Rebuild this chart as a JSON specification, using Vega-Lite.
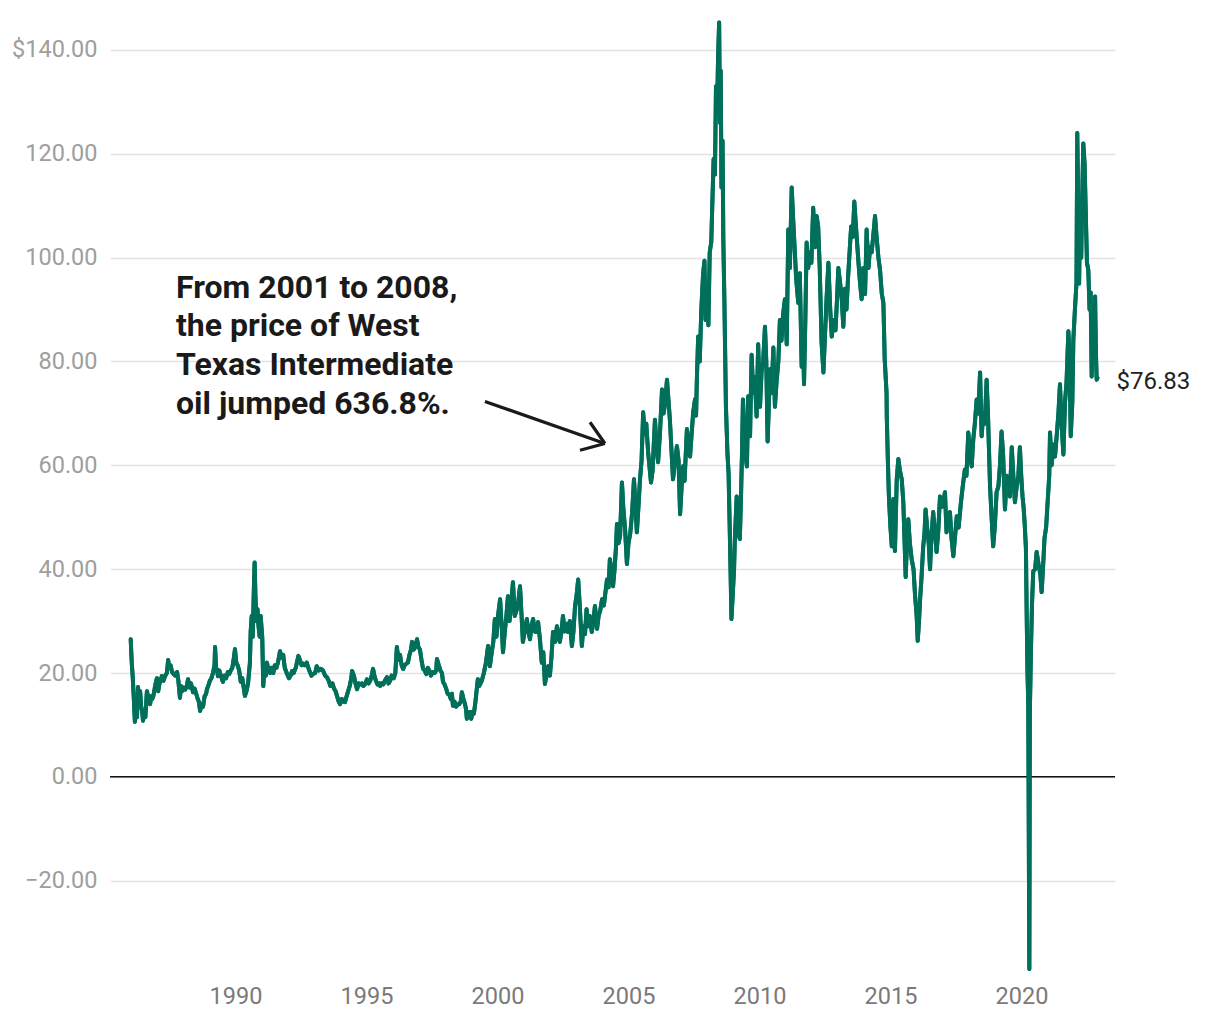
{
  "$schema": "https://vega.github.io/schema/vega-lite/v6.json",
  "width": 1005,
  "height": 946,
  "autosize": {"type": "none"},
  "padding": {"left": 110, "top": 24, "right": 105, "bottom": 50},
  "background": "white",
  "config": {
    "view": {"stroke": null},
    "font": "Roboto",
    "axis": {"domain": false, "ticks": false, "titleFontSize": 0}
  },
  "datasets": {
    "oil": [
      {"year":1986.00,"price":26.5},{"year":1986.04,"price":22},{"year":1986.08,"price":19},{"year":1986.12,"price":15},{"year":1986.16,"price":10.6},{"year":1986.20,"price":13},{"year":1986.24,"price":11.5},{"year":1986.28,"price":17.3},{"year":1986.32,"price":14},{"year":1986.36,"price":16.5},{"year":1986.40,"price":13.5},{"year":1986.44,"price":12.5},{"year":1986.47,"price":10.8},{"year":1986.52,"price":12.5},{"year":1986.56,"price":11.5},{"year":1986.60,"price":15},{"year":1986.62,"price":16.5},{"year":1986.66,"price":15.5},{"year":1986.70,"price":14.8},{"year":1986.74,"price":14},{"year":1986.78,"price":15.5},{"year":1986.82,"price":15},{"year":1986.86,"price":15.5},{"year":1986.90,"price":16.5},{"year":1986.93,"price":17.5},{"year":1987.00,"price":19},{"year":1987.05,"price":16.5},{"year":1987.10,"price":18},{"year":1987.19,"price":19.4},{"year":1987.25,"price":18.5},{"year":1987.32,"price":19.5},{"year":1987.38,"price":20},{"year":1987.43,"price":22.5},{"year":1987.47,"price":21},{"year":1987.52,"price":21.5},{"year":1987.58,"price":20.2},{"year":1987.64,"price":19.8},{"year":1987.70,"price":19.5},{"year":1987.77,"price":20.2},{"year":1987.82,"price":18.5},{"year":1987.88,"price":15.2},{"year":1987.92,"price":17.5},{"year":1987.96,"price":16.5},
      {"year":1988.02,"price":17.2},{"year":1988.08,"price":16.8},{"year":1988.14,"price":17.5},{"year":1988.19,"price":18.8},{"year":1988.24,"price":17.2},{"year":1988.30,"price":18},{"year":1988.38,"price":16.3},{"year":1988.44,"price":17},{"year":1988.50,"price":16},{"year":1988.56,"price":15},{"year":1988.60,"price":14.5},{"year":1988.65,"price":12.7},{"year":1988.70,"price":14},{"year":1988.76,"price":13.5},{"year":1988.82,"price":15.5},{"year":1988.88,"price":16},{"year":1988.91,"price":16.9},{"year":1988.96,"price":17.5},
      {"year":1989.02,"price":18.5},{"year":1989.08,"price":19},{"year":1989.14,"price":20},{"year":1989.20,"price":21.5},{"year":1989.22,"price":25},{"year":1989.26,"price":21},{"year":1989.30,"price":20.5},{"year":1989.33,"price":19.4},{"year":1989.38,"price":20.5},{"year":1989.44,"price":19.5},{"year":1989.52,"price":18.3},{"year":1989.58,"price":19.5},{"year":1989.64,"price":19},{"year":1989.71,"price":20.2},{"year":1989.76,"price":19.8},{"year":1989.82,"price":20.5},{"year":1989.88,"price":21},{"year":1989.94,"price":23},{"year":1989.98,"price":24.6},
      {"year":1990.03,"price":22},{"year":1990.08,"price":21.5},{"year":1990.14,"price":20.5},{"year":1990.20,"price":18.3},{"year":1990.26,"price":19},{"year":1990.32,"price":17},{"year":1990.36,"price":15.6},{"year":1990.42,"price":16.5},{"year":1990.48,"price":18},{"year":1990.55,"price":22},{"year":1990.58,"price":28},{"year":1990.62,"price":31},{"year":1990.66,"price":27},{"year":1990.70,"price":36},{"year":1990.73,"price":41.3},{"year":1990.76,"price":35},{"year":1990.80,"price":30},{"year":1990.84,"price":32.3},{"year":1990.88,"price":29},{"year":1990.92,"price":27},{"year":1990.96,"price":31},
      {"year":1991.02,"price":27},{"year":1991.06,"price":17.5},{"year":1991.10,"price":20.5},{"year":1991.16,"price":19.5},{"year":1991.20,"price":22},{"year":1991.26,"price":20.5},{"year":1991.32,"price":20},{"year":1991.38,"price":21},{"year":1991.44,"price":20},{"year":1991.50,"price":21.5},{"year":1991.56,"price":21},{"year":1991.62,"price":22},{"year":1991.70,"price":24.2},{"year":1991.76,"price":23},{"year":1991.82,"price":23.5},{"year":1991.88,"price":21},{"year":1991.97,"price":19.8},
      {"year":1992.04,"price":19},{"year":1992.10,"price":19.5},{"year":1992.16,"price":20.4},{"year":1992.22,"price":20},{"year":1992.30,"price":21},{"year":1992.40,"price":23.3},{"year":1992.46,"price":22.5},{"year":1992.52,"price":21.5},{"year":1992.58,"price":21.8},{"year":1992.64,"price":21.5},{"year":1992.72,"price":22},{"year":1992.78,"price":21},{"year":1992.84,"price":20.2},{"year":1992.90,"price":19.5},{"year":1992.96,"price":19.8},
      {"year":1993.04,"price":20},{"year":1993.10,"price":21.3},{"year":1993.18,"price":20.5},{"year":1993.26,"price":20.8},{"year":1993.34,"price":20.5},{"year":1993.42,"price":19.5},{"year":1993.49,"price":19.2},{"year":1993.56,"price":18.5},{"year":1993.62,"price":17.5},{"year":1993.70,"price":18},{"year":1993.76,"price":17},{"year":1993.82,"price":16.5},{"year":1993.88,"price":15.5},{"year":1993.94,"price":14.5},{"year":1993.99,"price":14},
      {"year":1994.06,"price":15},{"year":1994.12,"price":14.5},{"year":1994.18,"price":14.4},{"year":1994.24,"price":15.5},{"year":1994.30,"price":16.5},{"year":1994.36,"price":17.5},{"year":1994.42,"price":19},{"year":1994.45,"price":20.4},{"year":1994.52,"price":19.5},{"year":1994.58,"price":18},{"year":1994.64,"price":16.9},{"year":1994.70,"price":18},{"year":1994.76,"price":17.8},{"year":1994.82,"price":18},{"year":1994.88,"price":17.5},{"year":1994.94,"price":17.8},
      {"year":1995.02,"price":18.8},{"year":1995.08,"price":18},{"year":1995.14,"price":18.5},{"year":1995.20,"price":19.5},{"year":1995.25,"price":20.8},{"year":1995.30,"price":19.5},{"year":1995.36,"price":18.5},{"year":1995.42,"price":17.8},{"year":1995.48,"price":18},{"year":1995.52,"price":17.5},{"year":1995.58,"price":18},{"year":1995.64,"price":17.8},{"year":1995.70,"price":18.5},{"year":1995.78,"price":19.2},{"year":1995.84,"price":18},{"year":1995.90,"price":18.5},{"year":1995.96,"price":19.5},
      {"year":1996.04,"price":19},{"year":1996.10,"price":20},{"year":1996.16,"price":25},{"year":1996.22,"price":22.5},{"year":1996.28,"price":23.5},{"year":1996.34,"price":21.5},{"year":1996.40,"price":20.8},{"year":1996.46,"price":21.5},{"year":1996.52,"price":21.8},{"year":1996.58,"price":22},{"year":1996.64,"price":23.5},{"year":1996.70,"price":24.5},{"year":1996.74,"price":26},{"year":1996.80,"price":24.5},{"year":1996.86,"price":25},{"year":1996.93,"price":26.5},{"year":1996.98,"price":25},
      {"year":1997.04,"price":24.5},{"year":1997.10,"price":22.5},{"year":1997.16,"price":20.8},{"year":1997.22,"price":20.5},{"year":1997.28,"price":19.8},{"year":1997.34,"price":21},{"year":1997.40,"price":20.5},{"year":1997.46,"price":19.5},{"year":1997.54,"price":20.2},{"year":1997.60,"price":20},{"year":1997.66,"price":20.5},{"year":1997.69,"price":22.7},{"year":1997.76,"price":21.5},{"year":1997.82,"price":20.5},{"year":1997.88,"price":20},{"year":1997.92,"price":18.3},{"year":1997.98,"price":17.8},
      {"year":1998.04,"price":17},{"year":1998.10,"price":16},{"year":1998.16,"price":15.8},{"year":1998.22,"price":15},{"year":1998.26,"price":16},{"year":1998.30,"price":13.7},{"year":1998.36,"price":14.5},{"year":1998.42,"price":13.5},{"year":1998.48,"price":14},{"year":1998.54,"price":14},{"year":1998.60,"price":14.5},{"year":1998.64,"price":16.3},{"year":1998.70,"price":15},{"year":1998.76,"price":14},{"year":1998.80,"price":13},{"year":1998.83,"price":11.2},{"year":1998.88,"price":11.8},{"year":1998.94,"price":12.5},
      {"year":1999.00,"price":11.2},{"year":1999.04,"price":12.5},{"year":1999.10,"price":12.2},{"year":1999.16,"price":14.5},{"year":1999.20,"price":16.5},{"year":1999.25,"price":18.8},{"year":1999.30,"price":17.5},{"year":1999.40,"price":18.5},{"year":1999.48,"price":20},{"year":1999.56,"price":22},{"year":1999.64,"price":25.2},{"year":1999.71,"price":21.3},{"year":1999.78,"price":24},{"year":1999.84,"price":26},{"year":1999.90,"price":30.4},{"year":1999.96,"price":27},
      {"year":2000.02,"price":31},{"year":2000.10,"price":34.2},{"year":2000.16,"price":29},{"year":2000.21,"price":24},{"year":2000.28,"price":28},{"year":2000.34,"price":31},{"year":2000.40,"price":34.8},{"year":2000.46,"price":30},{"year":2000.52,"price":33},{"year":2000.59,"price":37.5},{"year":2000.66,"price":31},{"year":2000.74,"price":32.3},{"year":2000.80,"price":34},{"year":2000.86,"price":36.7},{"year":2000.92,"price":31},{"year":2000.97,"price":26},
      {"year":2001.04,"price":28},{"year":2001.12,"price":30.4},{"year":2001.18,"price":28},{"year":2001.24,"price":26.5},{"year":2001.30,"price":29},{"year":2001.36,"price":30.4},{"year":2001.42,"price":28},{"year":2001.50,"price":27.9},{"year":2001.55,"price":29.8},{"year":2001.62,"price":26.5},{"year":2001.69,"price":22},{"year":2001.75,"price":24},{"year":2001.81,"price":17.9},{"year":2001.87,"price":19.5},{"year":2001.93,"price":21.3},
      {"year":2002.00,"price":19.5},{"year":2002.06,"price":23},{"year":2002.12,"price":27.9},{"year":2002.20,"price":26},{"year":2002.27,"price":29},{"year":2002.33,"price":27},{"year":2002.38,"price":26},{"year":2002.44,"price":28},{"year":2002.50,"price":31},{"year":2002.56,"price":28},{"year":2002.62,"price":29.5},{"year":2002.69,"price":27.9},{"year":2002.76,"price":30},{"year":2002.84,"price":25.2},{"year":2002.90,"price":28},{"year":2002.96,"price":32.9},
      {"year":2003.02,"price":35},{"year":2003.08,"price":38},{"year":2003.14,"price":33},{"year":2003.22,"price":25.2},{"year":2003.28,"price":29},{"year":2003.34,"price":27.5},{"year":2003.40,"price":32.3},{"year":2003.46,"price":29},{"year":2003.52,"price":31},{"year":2003.60,"price":27.9},{"year":2003.66,"price":30},{"year":2003.72,"price":32.9},{"year":2003.80,"price":28.5},{"year":2003.86,"price":31},{"year":2003.92,"price":32},{"year":2003.99,"price":34.2},
      {"year":2004.06,"price":33},{"year":2004.12,"price":35.5},{"year":2004.18,"price":38},{"year":2004.24,"price":36.5},{"year":2004.29,"price":41.9},{"year":2004.35,"price":40},{"year":2004.41,"price":36.7},{"year":2004.47,"price":40},{"year":2004.52,"price":44},{"year":2004.56,"price":48.7},{"year":2004.62,"price":45},{"year":2004.68,"price":46.4},{"year":2004.75,"price":56.7},{"year":2004.80,"price":52},{"year":2004.87,"price":47.7},{"year":2004.94,"price":41},
      {"year":2005.00,"price":45},{"year":2005.07,"price":47},{"year":2005.14,"price":51},{"year":2005.21,"price":57.3},{"year":2005.26,"price":53},{"year":2005.32,"price":47.1},{"year":2005.38,"price":52},{"year":2005.44,"price":57.3},{"year":2005.50,"price":61},{"year":2005.56,"price":70.2},{"year":2005.62,"price":66},{"year":2005.68,"price":68},{"year":2005.75,"price":62.5},{"year":2005.86,"price":56.7},{"year":2005.92,"price":59},
      {"year":2006.01,"price":68.8},{"year":2006.07,"price":64},{"year":2006.13,"price":60.6},{"year":2006.20,"price":66},{"year":2006.28,"price":74.6},{"year":2006.34,"price":70},{"year":2006.40,"price":72},{"year":2006.47,"price":76.5},{"year":2006.52,"price":73},{"year":2006.58,"price":68.8},{"year":2006.64,"price":63},{"year":2006.70,"price":57.3},{"year":2006.76,"price":60},{"year":2006.85,"price":63.7},{"year":2006.91,"price":61},{"year":2006.97,"price":50.6},
      {"year":2007.03,"price":56},{"year":2007.08,"price":59.8},{"year":2007.14,"price":57},{"year":2007.23,"price":67},{"year":2007.29,"price":64},{"year":2007.35,"price":61.7},{"year":2007.41,"price":66},{"year":2007.47,"price":70.2},{"year":2007.54,"price":72.7},{"year":2007.58,"price":69.6},{"year":2007.61,"price":76.5},{"year":2007.66,"price":84.8},{"year":2007.72,"price":80},{"year":2007.78,"price":90},{"year":2007.85,"price":97},{"year":2007.90,"price":99.4},{"year":2007.94,"price":88},
      {"year":2008.00,"price":92},{"year":2008.05,"price":87},{"year":2008.10,"price":101},{"year":2008.16,"price":103},{"year":2008.20,"price":110.4},{"year":2008.25,"price":119},{"year":2008.30,"price":116},{"year":2008.34,"price":133},{"year":2008.38,"price":128},{"year":2008.42,"price":138.6},{"year":2008.46,"price":145.3},{"year":2008.49,"price":126},{"year":2008.52,"price":136},{"year":2008.55,"price":113.5},{"year":2008.59,"price":122.5},{"year":2008.62,"price":103.5},{"year":2008.66,"price":92},{"year":2008.72,"price":71.3},{"year":2008.78,"price":62},{"year":2008.82,"price":58.6},{"year":2008.86,"price":49},{"year":2008.89,"price":41.3},{"year":2008.93,"price":30.4},{"year":2008.97,"price":34.2},
      {"year":2009.03,"price":40},{"year":2009.06,"price":45.8},{"year":2009.13,"price":54},{"year":2009.18,"price":47},{"year":2009.25,"price":45.8},{"year":2009.30,"price":55},{"year":2009.33,"price":61.7},{"year":2009.37,"price":72.7},{"year":2009.45,"price":62.5},{"year":2009.52,"price":59.8},{"year":2009.57,"price":73.3},{"year":2009.64,"price":65.6},{"year":2009.70,"price":81.3},{"year":2009.76,"price":74},{"year":2009.82,"price":77},{"year":2009.89,"price":69.4},{"year":2009.95,"price":83.3},
      {"year":2010.02,"price":71.3},{"year":2010.08,"price":78},{"year":2010.14,"price":80},{"year":2010.21,"price":86.7},{"year":2010.26,"price":80},{"year":2010.31,"price":64.6},{"year":2010.36,"price":72},{"year":2010.40,"price":78.5},{"year":2010.46,"price":74},{"year":2010.53,"price":82.7},{"year":2010.59,"price":71.3},{"year":2010.65,"price":76},{"year":2010.72,"price":80},{"year":2010.78,"price":88},{"year":2010.84,"price":84},{"year":2010.90,"price":89},{"year":2010.97,"price":92},
      {"year":2011.04,"price":83.3},{"year":2011.10,"price":105.4},{"year":2011.16,"price":98},{"year":2011.23,"price":113.5},{"year":2011.28,"price":108},{"year":2011.35,"price":101},{"year":2011.40,"price":96},{"year":2011.48,"price":91.3},{"year":2011.54,"price":97},{"year":2011.61,"price":79},{"year":2011.66,"price":86},{"year":2011.70,"price":75.6},{"year":2011.75,"price":88},{"year":2011.80,"price":102.9},{"year":2011.86,"price":98},{"year":2011.92,"price":101},{"year":2011.98,"price":99},
      {"year":2012.05,"price":109.6},{"year":2012.12,"price":102},{"year":2012.18,"price":108},{"year":2012.24,"price":106},{"year":2012.30,"price":98},{"year":2012.37,"price":83.7},{"year":2012.44,"price":77.9},{"year":2012.50,"price":85},{"year":2012.56,"price":92},{"year":2012.63,"price":99},{"year":2012.70,"price":90},{"year":2012.76,"price":84.8},{"year":2012.82,"price":88},{"year":2012.90,"price":86},{"year":2012.96,"price":92},
      {"year":2013.01,"price":98},{"year":2013.08,"price":95},{"year":2013.14,"price":92},{"year":2013.20,"price":86.7},{"year":2013.26,"price":94},{"year":2013.32,"price":90},{"year":2013.38,"price":96},{"year":2013.45,"price":102},{"year":2013.50,"price":106},{"year":2013.56,"price":104},{"year":2013.62,"price":110.8},{"year":2013.71,"price":104},{"year":2013.78,"price":99},{"year":2013.84,"price":95},{"year":2013.90,"price":92},{"year":2013.96,"price":98},
      {"year":2014.03,"price":93},{"year":2014.09,"price":105.4},{"year":2014.16,"price":98},{"year":2014.22,"price":102},{"year":2014.28,"price":101},{"year":2014.34,"price":104},{"year":2014.41,"price":108},{"year":2014.47,"price":104},{"year":2014.54,"price":100},{"year":2014.60,"price":97.7},{"year":2014.67,"price":93},{"year":2014.73,"price":91.3},{"year":2014.78,"price":80.4},{"year":2014.85,"price":74},{"year":2014.86,"price":69.2},{"year":2014.90,"price":61},{"year":2014.94,"price":54},
      {"year":2015.00,"price":48},{"year":2015.05,"price":44.4},{"year":2015.11,"price":53.5},{"year":2015.17,"price":43.5},{"year":2015.24,"price":57.3},{"year":2015.30,"price":61.2},{"year":2015.36,"price":59},{"year":2015.43,"price":57.3},{"year":2015.49,"price":52.9},{"year":2015.54,"price":45},{"year":2015.58,"price":38.5},{"year":2015.63,"price":45},{"year":2015.68,"price":49.6},{"year":2015.74,"price":45},{"year":2015.81,"price":41.9},{"year":2015.88,"price":40},{"year":2015.94,"price":34.8},
      {"year":2016.00,"price":31},{"year":2016.04,"price":26.2},{"year":2016.09,"price":30},{"year":2016.13,"price":34.2},{"year":2016.18,"price":38},{"year":2016.25,"price":44.4},{"year":2016.30,"price":47},{"year":2016.34,"price":51.5},{"year":2016.40,"price":48},{"year":2016.46,"price":45},{"year":2016.51,"price":40},{"year":2016.56,"price":46},{"year":2016.63,"price":51},{"year":2016.70,"price":47},{"year":2016.76,"price":43.3},{"year":2016.82,"price":47},{"year":2016.89,"price":54},{"year":2016.96,"price":52},
      {"year":2017.02,"price":53},{"year":2017.08,"price":54.8},{"year":2017.14,"price":47.1},{"year":2017.20,"price":50},{"year":2017.27,"price":51},{"year":2017.33,"price":46},{"year":2017.40,"price":42.5},{"year":2017.46,"price":46},{"year":2017.53,"price":50.2},{"year":2017.60,"price":48},{"year":2017.69,"price":52.9},{"year":2017.76,"price":56},{"year":2017.84,"price":59.2},{"year":2017.90,"price":58},{"year":2017.97,"price":66.3},
      {"year":2018.04,"price":62},{"year":2018.10,"price":59.8},{"year":2018.16,"price":65},{"year":2018.22,"price":68},{"year":2018.29,"price":72.7},{"year":2018.35,"price":70},{"year":2018.42,"price":77.9},{"year":2018.48,"price":65.6},{"year":2018.54,"price":70},{"year":2018.60,"price":68},{"year":2018.67,"price":76.5},{"year":2018.72,"price":70},{"year":2018.80,"price":56},{"year":2018.86,"price":50},{"year":2018.92,"price":44.4},{"year":2018.98,"price":48},
      {"year":2019.05,"price":54.8},{"year":2019.12,"price":56},{"year":2019.18,"price":60},{"year":2019.24,"price":66.5},{"year":2019.30,"price":62},{"year":2019.37,"price":51.5},{"year":2019.44,"price":58},{"year":2019.50,"price":56},{"year":2019.56,"price":54},{"year":2019.63,"price":63.5},{"year":2019.70,"price":57},{"year":2019.75,"price":52.9},{"year":2019.82,"price":56},{"year":2019.88,"price":58},{"year":2019.94,"price":63.5},{"year":2019.99,"price":58},
      {"year":2020.04,"price":54},{"year":2020.08,"price":52},{"year":2020.12,"price":49},{"year":2020.17,"price":44},{"year":2020.20,"price":31},{"year":2020.23,"price":20},{"year":2020.26,"price":14.2},{"year":2020.30,"price":-37},{"year":2020.32,"price":12.7},{"year":2020.36,"price":24},{"year":2020.40,"price":33},{"year":2020.45,"price":39.6},{"year":2020.52,"price":40},{"year":2020.58,"price":43.3},{"year":2020.65,"price":41},{"year":2020.72,"price":39},{"year":2020.77,"price":35.6},{"year":2020.82,"price":40},{"year":2020.88,"price":46},{"year":2020.94,"price":48},
      {"year":2021.00,"price":53},{"year":2021.06,"price":58},{"year":2021.09,"price":66.3},{"year":2021.15,"price":60},{"year":2021.22,"price":64},{"year":2021.28,"price":61.7},{"year":2021.35,"price":66},{"year":2021.41,"price":70},{"year":2021.47,"price":75.6},{"year":2021.53,"price":68},{"year":2021.60,"price":62.1},{"year":2021.66,"price":72},{"year":2021.72,"price":76},{"year":2021.79,"price":85.8},{"year":2021.84,"price":80},{"year":2021.88,"price":65.6},{"year":2021.94,"price":72},{"year":2021.98,"price":84.2},
      {"year":2022.04,"price":90},{"year":2022.10,"price":95.2},{"year":2022.13,"price":124},{"year":2022.17,"price":108},{"year":2022.20,"price":95},{"year":2022.23,"price":107.3},{"year":2022.28,"price":100},{"year":2022.32,"price":112},{"year":2022.36,"price":122},{"year":2022.41,"price":118},{"year":2022.46,"price":107.3},{"year":2022.50,"price":99},{"year":2022.55,"price":97.7},{"year":2022.60,"price":90},{"year":2022.64,"price":93.3},{"year":2022.68,"price":77.1},{"year":2022.73,"price":85},{"year":2022.78,"price":88},{"year":2022.81,"price":92.5},{"year":2022.84,"price":82},{"year":2022.87,"price":76.5},{"year":2022.90,"price":76.83}
    ],
    "arrow": [
      {"x1":1999.52,"y1":72.3,"x2":2004.10,"y2":64.2},
      {"x1":2003.15,"y1":62.9,"x2":2004.10,"y2":64.2},
      {"x1":2003.53,"y1":68.3,"x2":2004.10,"y2":64.2}
    ],
    "zero": [{"price": 0}],
    "note": [
      {"year":1987.73,"price":92.3,"label":"From 2001 to 2008,\nthe price of West\nTexas Intermediate\noil jumped 636.8%."}
    ],
    "last": [
      {"year":2022.90,"price":76.83,"label":"$76.83"}
    ]
  },
  "layer": [
    {
      "data": {"name": "oil"},
      "mark": {"type": "line", "color": "#00705a", "strokeWidth": 4, "strokeJoin": "round", "strokeCap": "round"},
      "encoding": {
        "x": {"field": "year", "type": "quantitative",
              "scale": {"domain": [1985.21, 2023.57], "nice": false, "zero": false},
              "axis": {"title": null, "values": [1990, 1995, 2000, 2005, 2010, 2015, 2020], "format": "d",
                       "grid": false, "labelFontSize": 23.5, "labelColor": "#7a7a7a", "labelPadding": 14, "labelFont": "Roboto"}},
        "y": {"field": "price", "type": "quantitative",
              "scale": {"domain": [-37.2, 145], "nice": false, "zero": false},
              "axis": {"title": null, "values": [-20, 0, 20, 40, 60, 80, 100, 120, 140],
                       "labelExpr": "datum.value == 140 ? '$140.00' : format(datum.value, '.2f')",
                       "grid": true, "gridColor": "#e3e3e3", "gridWidth": 1.5,
                       "labelFontSize": 23.5, "labelColor": "#9e9e9e", "labelPadding": 13, "labelFont": "Roboto"}}
      }
    },
    {
      "data": {"name": "zero"},
      "mark": {"type": "rule", "color": "#111111", "strokeWidth": 1.5},
      "encoding": {"y": {"field": "price", "type": "quantitative"}}
    },
    {
      "data": {"name": "oil"},
      "mark": {"type": "line", "color": "#00705a", "strokeWidth": 4, "strokeJoin": "round", "strokeCap": "round"},
      "encoding": {
        "x": {"field": "year", "type": "quantitative"},
        "y": {"field": "price", "type": "quantitative"}
      }
    },
    {
      "data": {"name": "arrow"},
      "mark": {"type": "rule", "color": "#1a1a1a", "strokeWidth": 3.2, "strokeCap": "butt"},
      "encoding": {
        "x": {"field": "x1", "type": "quantitative"},
        "y": {"field": "y1", "type": "quantitative"},
        "x2": {"field": "x2"},
        "y2": {"field": "y2"}
      }
    },
    {
      "data": {"name": "note"},
      "mark": {"type": "text", "align": "left", "baseline": "alphabetic", "fontSize": 32, "fontWeight": "bold",
               "font": "Roboto", "color": "#1a1a1a", "lineBreak": "\n", "lineHeight": 38.7},
      "encoding": {
        "x": {"field": "year", "type": "quantitative"},
        "y": {"field": "price", "type": "quantitative"},
        "text": {"field": "label"}
      }
    },
    {
      "data": {"name": "last"},
      "mark": {"type": "text", "align": "left", "baseline": "middle", "dx": 19, "dy": 4, "fontSize": 24,
               "font": "Roboto", "color": "#222222"},
      "encoding": {
        "x": {"field": "year", "type": "quantitative"},
        "y": {"field": "price", "type": "quantitative"},
        "text": {"field": "label"}
      }
    }
  ]
}
